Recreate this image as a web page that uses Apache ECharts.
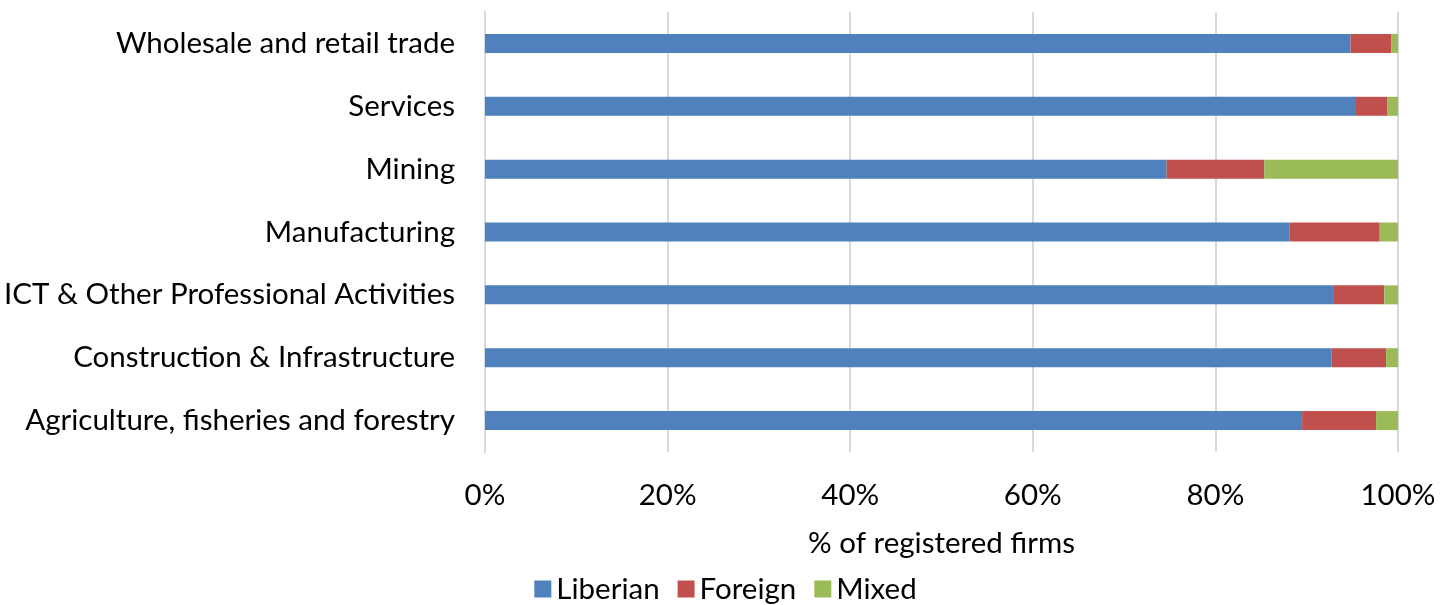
<!DOCTYPE html>
<html><head><meta charset="utf-8">
<script src="https://cdn.jsdelivr.net/npm/echarts@6/dist/echarts.min.js"></script>
<style>html,body{margin:0;padding:0;background:#fff}#c{width:1451px;height:605px}</style>
</head><body><div id="c"></div>
<script>
const categories = ["Agriculture, fisheries and forestry","Construction & Infrastructure","ICT & Other Professional Activities","Manufacturing","Mining","Services","Wholesale and retail trade"];
const liberian = [89.5, 92.7, 92.9, 88.1, 74.65, 95.4, 94.8];
const foreign = [8.1, 6.0, 5.6, 9.9, 10.7, 3.4, 4.45];
const mixed = [2.4, 1.3, 1.5, 2.0, 14.65, 1.2, 0.75];
const xTicks = [0, 20, 40, 60, 80, 100];
const FONT = "Lato";
const FS = 29.5;
const chart = echarts.init(document.getElementById('c'));
function bar(name, data, color){
  return {name, type:'bar', stack:'s', data, barWidth:19, itemStyle:{color}, emphasis:{disabled:true}};
}
chart.setOption({
  animation:false,
  textStyle:{fontFamily:FONT},
  grid:{left:485, right:53, top:12, bottom:153, containLabel:false},
  xAxis:{type:'value', min:0, max:100, interval:20,
    axisLabel:{formatter:v=>v+'%', fontSize:FS, color:'#000', fontFamily:FONT, margin:28},
    splitLine:{lineStyle:{color:'#d9d9d9', width:2}},
    axisLine:{show:false}, axisTick:{show:false},
    name:'% of registered firms', nameLocation:'middle', nameGap:76,
    nameTextStyle:{fontSize:FS, color:'#000', fontFamily:FONT}},
  yAxis:{type:'category', data:categories,
    axisLabel:{fontSize:FS, color:'#000', fontFamily:FONT, margin:30},
    axisLine:{lineStyle:{color:'#d9d9d9', width:2}}, axisTick:{show:false}},
  legend:{bottom:-4, left:'center', itemWidth:17, itemHeight:17, itemGap:18, icon:'rect',
    textStyle:{fontSize:FS, color:'#000', fontFamily:FONT}, data:['Liberian','Foreign','Mixed']},
  series:[bar('Liberian', liberian, '#4F81BD'), bar('Foreign', foreign, '#C0504D'), bar('Mixed', mixed, '#9BBB59')]
});
</script></body></html>
